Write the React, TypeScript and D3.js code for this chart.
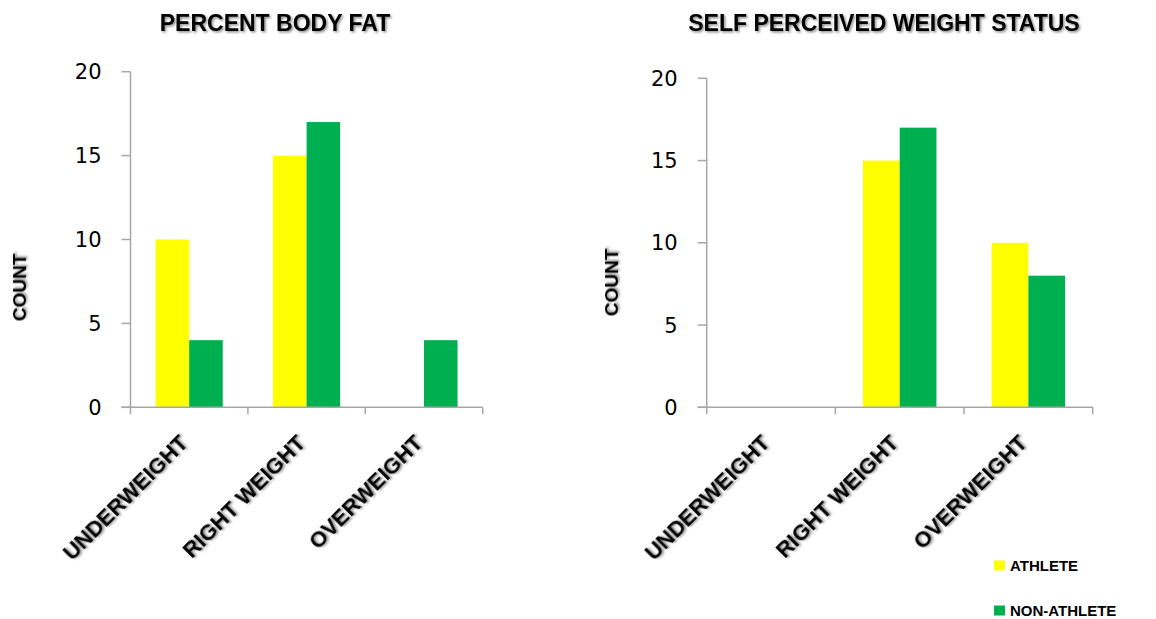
import React from "react";
import * as d3 from "d3";

const categories = ["UNDERWEIGHT", "RIGHT WEIGHT", "OVERWEIGHT"];
const seriesNames = ["ATHLETE", "NON-ATHLETE"];
const seriesColors = ["#FFFF00", "#00B050"];
const bodyFatAthlete = [10, 15, 0];
const bodyFatNonAthlete = [4, 17, 4];
const selfAthlete = [0, 15, 10];
const selfNonAthlete = [0, 17, 8];
const yTicks = [0, 5, 10, 15, 20];

type PanelProps = {
  title: string;
  titleX: number;
  left: number;
  right: number;
  top: number;
  bottom: number;
  countX: number;
  countY: number;
  series: number[][];
};

const BOLD = "'Liberation Sans', Arial, sans-serif";

function Panel(p: PanelProps) {
  const x = d3.scaleBand<string>().domain(categories).range([p.left, p.right]).padding(0);
  const inner = d3
    .scaleBand<number>()
    .domain(d3.range(p.series.length))
    .range([0, x.bandwidth()])
    .paddingInner(0)
    .paddingOuter(0.75);
  const y = d3.scaleLinear().domain([0, 20]).range([p.bottom, p.top]);
  const axisColor = "#A6A6A6";
  const boundaries = d3.range(categories.length + 1).map((i) => p.left + i * x.step());
  return (
    <g>
      <text
        x={p.titleX}
        y={31}
        textAnchor="middle"
        fontFamily={BOLD}
        fontWeight="bold"
        fontSize={23}
        fill="#000"
        filter="url(#shadow)"
      >
        {p.title}
      </text>
      <text
        transform={`translate(${p.countX},${p.countY}) rotate(-90)`}
        textAnchor="middle"
        fontFamily={BOLD}
        fontWeight="bold"
        fontSize={19}
        fill="#000"
        filter="url(#shadow)"
      >
        COUNT
      </text>
      {categories.map((c, ci) =>
        p.series.map((s, si) =>
          s[ci] > 0 ? (
            <rect
              key={`${c}-${si}`}
              x={(x(c) as number) + (inner(si) as number)}
              y={y(s[ci])}
              width={inner.bandwidth()}
              height={y(0) - y(s[ci])}
              fill={seriesColors[si]}
            />
          ) : null
        )
      )}
      <line x1={p.left} x2={p.left} y1={p.top} y2={p.bottom} stroke={axisColor} strokeWidth={1.5} />
      {yTicks.map((t) => (
        <g key={t}>
          <line x1={p.left - 9} x2={p.left} y1={y(t)} y2={y(t)} stroke={axisColor} strokeWidth={1.5} />
          <text
            x={p.left - 29}
            y={y(t)}
            dy="0.36em"
            textAnchor="end"
            fontFamily="'DejaVu Sans', Verdana, sans-serif"
            fontSize={21}
            fill="#000"
          >
            {t}
          </text>
        </g>
      ))}
      <line x1={p.left - 9} x2={p.right} y1={p.bottom} y2={p.bottom} stroke={axisColor} strokeWidth={1.5} />
      {boundaries.map((bx, i) => (
        <line key={i} x1={bx} x2={bx} y1={p.bottom} y2={p.bottom + 7} stroke={axisColor} strokeWidth={1.5} />
      ))}
      {categories.map((c) => {
        const cx = (x(c) as number) + x.bandwidth() / 2;
        return (
          <text
            key={c}
            transform={`translate(${cx},${p.bottom + 37}) rotate(-45)`}
            textAnchor="end"
            fontFamily={BOLD}
            fontWeight="bold"
            fontSize={22}
            fill="#000"
            filter="url(#shadow)"
          >
            {c}
          </text>
        );
      })}
    </g>
  );
}

export default function App() {
  const legendYs = [560.5, 605.5];
  return (
    <svg
      width={1156}
      height={619}
      style={{ position: "absolute", left: 0, top: 0, background: "#fff" }}
    >
      <defs>
        <filter id="shadow" x="-10%" y="-30%" width="130%" height="180%">
          <feDropShadow dx={1.5} dy={1.5} stdDeviation={1} floodColor="#000" floodOpacity={0.45} />
        </filter>
      </defs>
      <rect width={1156} height={619} fill="#fff" />
      <Panel
        title="PERCENT BODY FAT"
        titleX={275}
        left={130.5}
        right={482.7}
        top={71.7}
        bottom={407.3}
        countX={26}
        countY={287.5}
        series={[bodyFatAthlete, bodyFatNonAthlete]}
      />
      <Panel
        title="SELF PERCEIVED WEIGHT STATUS"
        titleX={884}
        left={706.7}
        right={1092.7}
        top={78.3}
        bottom={407.3}
        countX={618}
        countY={282.5}
        series={[selfAthlete, selfNonAthlete]}
      />
      {seriesNames.map((n, i) => (
        <g key={n}>
          <rect x={994} y={legendYs[i]} width={11} height={10} fill={seriesColors[i]} />
          <text x={1010} y={legendYs[i] + 10.5} fontFamily={BOLD} fontWeight="bold" fontSize={15} fill="#000">
            {n}
          </text>
        </g>
      ))}
    </svg>
  );
}
